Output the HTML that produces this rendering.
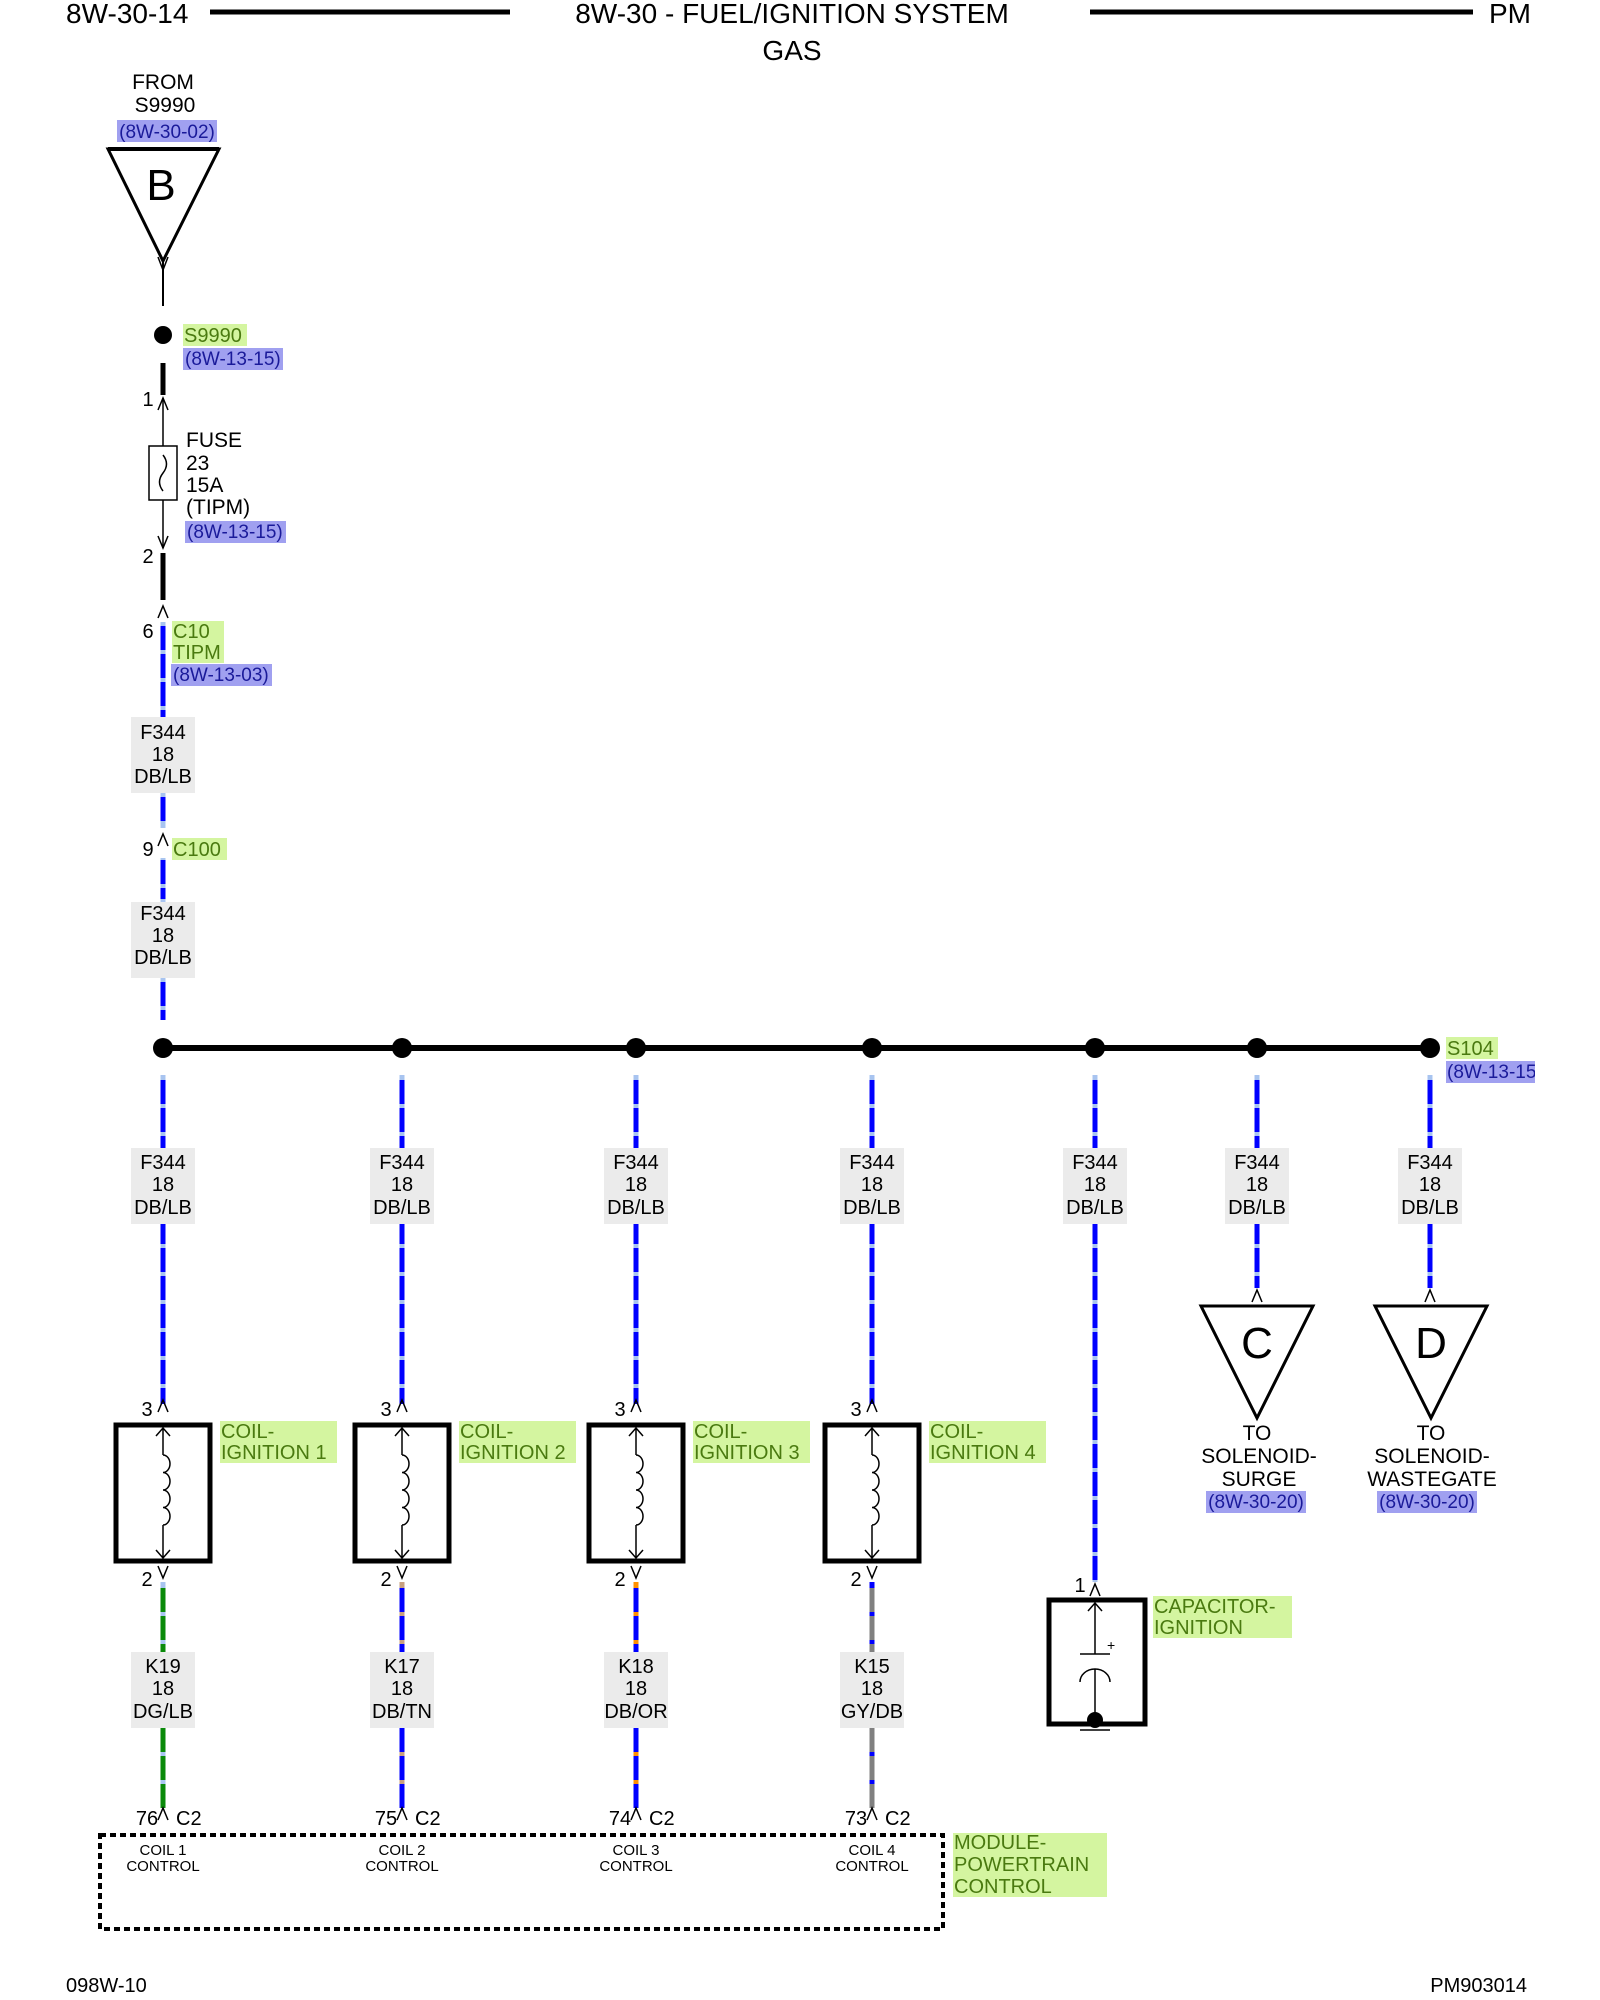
<!DOCTYPE html>
<html><head><meta charset="utf-8"><style>
html,body{margin:0;padding:0;background:#fff;}
svg{display:block;}
text{font-family:"Liberation Sans",Arial,sans-serif;fill:#000;}
.g{fill:#4a7a10;}
.b{fill:#1a1a9a;}
</style></head><body>
<svg width="1600" height="2000" viewBox="0 0 1600 2000" xmlns="http://www.w3.org/2000/svg">
<defs>
<clipPath id="clip"><rect x="0" y="0" width="1535" height="2000"/></clipPath>
</defs>
<g clip-path="url(#clip)">
<!-- header -->
<text x="66" y="23" font-size="28">8W-30-14</text>
<line x1="210" y1="12" x2="510" y2="12" stroke="#000" stroke-width="5"/>
<text x="792" y="23" font-size="28" text-anchor="middle">8W-30 - FUEL/IGNITION SYSTEM</text>
<line x1="1090" y1="12" x2="1473" y2="12" stroke="#000" stroke-width="5"/>
<text x="1489" y="23" font-size="28">PM</text>
<text x="792" y="60" font-size="28" text-anchor="middle">GAS</text>

<!-- FROM -->
<text x="163" y="89" font-size="21" text-anchor="middle">FROM</text>
<text x="165" y="112" font-size="21" text-anchor="middle">S9990</text>
<rect x="117" y="120" width="100" height="22" fill="#a0a0f0"/>
<text x="167" y="138" font-size="19" text-anchor="middle" class="b">(8W-30-02)</text>
<polygon points="108,149 219,149 163,261" fill="none" stroke="#000" stroke-width="3"/>
<line x1="108" y1="149" x2="219" y2="149" stroke="#000" stroke-width="4"/>
<text x="161" y="200" font-size="44" text-anchor="middle">B</text>
<polyline points="158,257 163,270 168,257" fill="none" stroke="#000" stroke-width="1.5"/>
<line x1="163" y1="261" x2="163" y2="306" stroke="#000" stroke-width="2"/>

<circle cx="163" cy="335" r="9" fill="#000"/>
<rect x="183" y="324" width="64" height="22" fill="#d4f5a0"/>
<text x="184" y="342" font-size="20" class="g">S9990</text>
<rect x="183" y="348" width="100" height="22" fill="#a0a0f0"/>
<text x="185" y="365" font-size="19" class="b">(8W-13-15)</text>

<line x1="163" y1="363" x2="163" y2="395" stroke="#000" stroke-width="5"/>
<text x="148" y="406" font-size="20" text-anchor="middle">1</text>
<polyline points="158,410 163,398 168,410" fill="none" stroke="#000" stroke-width="1.5"/>
<line x1="163" y1="398" x2="163" y2="548" stroke="#000" stroke-width="1.5"/>
<polyline points="158,536 163,548 168,536" fill="none" stroke="#000" stroke-width="1.5"/>
<rect x="149" y="446" width="28" height="54" fill="#fff" stroke="#000" stroke-width="1.5"/>
<path d="M163,455 Q170,464 163,473 Q156,482 163,491" fill="none" stroke="#000" stroke-width="1.5"/>
<text x="186" y="447" font-size="21">FUSE</text>
<text x="186" y="470" font-size="21">23</text>
<text x="186" y="492" font-size="21">15A</text>
<text x="186" y="514" font-size="21">(TIPM)</text>
<rect x="185" y="521" width="101" height="22" fill="#a0a0f0"/>
<text x="187" y="538" font-size="19" class="b">(8W-13-15)</text>
<text x="148" y="563" font-size="20" text-anchor="middle">2</text>
<line x1="163" y1="553" x2="163" y2="600" stroke="#000" stroke-width="5"/>
<polyline points="158,618 163,606 168,618" fill="none" stroke="#000" stroke-width="1.5"/>
<text x="148" y="638" font-size="20" text-anchor="middle">6</text>
<rect x="172" y="621" width="52" height="42" fill="#d4f5a0"/>
<text x="173" y="638" font-size="20" class="g">C10</text>
<text x="173" y="659" font-size="20" class="g">TIPM</text>
<rect x="171" y="664" width="101" height="22" fill="#a0a0f0"/>
<text x="173" y="681" font-size="19" class="b">(8W-13-03)</text>

<!-- wire helper styles -->
<g stroke-width="5">
<!-- main trunk -->
<g stroke="#a8c4f0"><line x1="163" y1="622" x2="163" y2="1020"/></g>
</g>
<g stroke="#0000ff" stroke-width="5" stroke-dasharray="24 4">
<line x1="163" y1="626" x2="163" y2="722"/>
<line x1="163" y1="797" x2="163" y2="822"/>
<line x1="163" y1="860" x2="163" y2="899"/>
<line x1="163" y1="982" x2="163" y2="1020"/>
</g>
<rect x="131" y="717" width="64" height="76" fill="#ebebeb"/>
<text x="163" y="739" font-size="20" text-anchor="middle">F344</text>
<text x="163" y="761" font-size="20" text-anchor="middle">18</text>
<text x="163" y="783" font-size="20" text-anchor="middle">DB/LB</text>
<rect x="150" y="828" width="26" height="30" fill="#fff"/>
<polyline points="158,846 163,834 168,846" fill="none" stroke="#000" stroke-width="1.5"/>
<text x="148" y="856" font-size="20" text-anchor="middle">9</text>
<rect x="172" y="838" width="55" height="22" fill="#d4f5a0"/>
<text x="173" y="856" font-size="20" class="g">C100</text>
<rect x="131" y="902" width="64" height="76" fill="#ebebeb"/>
<text x="163" y="920" font-size="20" text-anchor="middle">F344</text>
<text x="163" y="942" font-size="20" text-anchor="middle">18</text>
<text x="163" y="964" font-size="20" text-anchor="middle">DB/LB</text>

<!-- bus -->
<line x1="163" y1="1048" x2="1431" y2="1048" stroke="#000" stroke-width="6"/>
<g fill="#000">
<circle cx="163" cy="1048" r="10"/><circle cx="402" cy="1048" r="10"/><circle cx="636" cy="1048" r="10"/>
<circle cx="872" cy="1048" r="10"/><circle cx="1095" cy="1048" r="10"/><circle cx="1257" cy="1048" r="10"/><circle cx="1430" cy="1048" r="10"/>
</g>
<rect x="1446" y="1037" width="52" height="22" fill="#d4f5a0"/>
<text x="1447" y="1055" font-size="20" class="g">S104</text>
<rect x="1446" y="1061" width="100" height="22" fill="#a0a0f0"/>
<text x="1447" y="1078" font-size="19" class="b">(8W-13-15)</text>

<!-- branches upper -->
<g stroke="#a8c4f0" stroke-width="5">
<line x1="163" y1="1075" x2="163" y2="1404"/>
<line x1="402" y1="1075" x2="402" y2="1404"/>
<line x1="636" y1="1075" x2="636" y2="1404"/>
<line x1="872" y1="1075" x2="872" y2="1404"/>
<line x1="1095" y1="1075" x2="1095" y2="1582"/>
<line x1="1257" y1="1075" x2="1257" y2="1288"/>
<line x1="1430" y1="1075" x2="1430" y2="1288"/>
</g>
<g stroke="#0000ff" stroke-width="5" stroke-dasharray="24 4">
<line x1="163" y1="1080" x2="163" y2="1404"/>
<line x1="402" y1="1080" x2="402" y2="1404"/>
<line x1="636" y1="1080" x2="636" y2="1404"/>
<line x1="872" y1="1080" x2="872" y2="1404"/>
<line x1="1095" y1="1080" x2="1095" y2="1582"/>
<line x1="1257" y1="1080" x2="1257" y2="1288"/>
<line x1="1430" y1="1080" x2="1430" y2="1288"/>
</g>
<g font-size="20" text-anchor="middle">
<rect x="131" y="1148" width="64" height="76" fill="#ebebeb"/><text x="163" y="1169">F344</text><text x="163" y="1191">18</text><text x="163" y="1214">DB/LB</text>
<rect x="370" y="1148" width="64" height="76" fill="#ebebeb"/><text x="402" y="1169">F344</text><text x="402" y="1191">18</text><text x="402" y="1214">DB/LB</text>
<rect x="604" y="1148" width="64" height="76" fill="#ebebeb"/><text x="636" y="1169">F344</text><text x="636" y="1191">18</text><text x="636" y="1214">DB/LB</text>
<rect x="840" y="1148" width="64" height="76" fill="#ebebeb"/><text x="872" y="1169">F344</text><text x="872" y="1191">18</text><text x="872" y="1214">DB/LB</text>
<rect x="1063" y="1148" width="64" height="76" fill="#ebebeb"/><text x="1095" y="1169">F344</text><text x="1095" y="1191">18</text><text x="1095" y="1214">DB/LB</text>
<rect x="1225" y="1148" width="64" height="76" fill="#ebebeb"/><text x="1257" y="1169">F344</text><text x="1257" y="1191">18</text><text x="1257" y="1214">DB/LB</text>
<rect x="1398" y="1148" width="64" height="76" fill="#ebebeb"/><text x="1430" y="1169">F344</text><text x="1430" y="1191">18</text><text x="1430" y="1214">DB/LB</text>
</g>

<!-- triangles C D -->
<polyline points="1252,1302 1257,1290 1262,1302" fill="none" stroke="#000" stroke-width="1.5"/>
<polygon points="1201,1306 1313,1306 1257,1418" fill="none" stroke="#000" stroke-width="3"/>
<text x="1257" y="1358" font-size="44" text-anchor="middle">C</text>
<polyline points="1425,1302 1430,1290 1435,1302" fill="none" stroke="#000" stroke-width="1.5"/>
<polygon points="1375,1306 1487,1306 1431,1418" fill="none" stroke="#000" stroke-width="3"/>
<text x="1431" y="1358" font-size="44" text-anchor="middle">D</text>
<g font-size="21" text-anchor="middle">
<text x="1257" y="1440">TO</text><text x="1259" y="1463">SOLENOID-</text><text x="1259" y="1486">SURGE</text>
<text x="1431" y="1440">TO</text><text x="1432" y="1463">SOLENOID-</text><text x="1432" y="1486">WASTEGATE</text>
</g>
<rect x="1206" y="1491" width="100" height="22" fill="#a0a0f0"/>
<text x="1256" y="1508" font-size="19" text-anchor="middle" class="b">(8W-30-20)</text>
<rect x="1377" y="1491" width="100" height="22" fill="#a0a0f0"/>
<text x="1427" y="1508" font-size="19" text-anchor="middle" class="b">(8W-30-20)</text>

<!-- coils -->
<g id="coils">
<g font-size="20" text-anchor="middle">
<text x="147" y="1416">3</text><text x="386" y="1416">3</text><text x="620" y="1416">3</text><text x="856" y="1416">3</text>
<text x="147" y="1586">2</text><text x="386" y="1586">2</text><text x="620" y="1586">2</text><text x="856" y="1586">2</text>
<text x="147" y="1825">76</text><text x="386" y="1825">75</text><text x="620" y="1825">74</text><text x="856" y="1825">73</text>
</g>
<g font-size="20">
<text x="176" y="1825">C2</text><text x="415" y="1825">C2</text><text x="649" y="1825">C2</text><text x="885" y="1825">C2</text>
</g>
</g>

<!-- lower wires -->
<g stroke-width="5">
<line x1="163" y1="1582" x2="163" y2="1808" stroke="#a8c4f0"/>
<line x1="163" y1="1588" x2="163" y2="1808" stroke="#0a8a0a" stroke-dasharray="24 4"/>
<line x1="402" y1="1582" x2="402" y2="1808" stroke="#c8a080"/>
<line x1="402" y1="1588" x2="402" y2="1808" stroke="#0000ff" stroke-dasharray="24 4"/>
<line x1="636" y1="1582" x2="636" y2="1808" stroke="#ff9000"/>
<line x1="636" y1="1588" x2="636" y2="1808" stroke="#0000ff" stroke-dasharray="24 4"/>
<line x1="872" y1="1582" x2="872" y2="1808" stroke="#0000ff"/>
<line x1="872" y1="1588" x2="872" y2="1808" stroke="#808080" stroke-dasharray="24 4"/>
</g>
<g font-size="20" text-anchor="middle">
<rect x="131" y="1652" width="64" height="76" fill="#ebebeb"/><text x="163" y="1673">K19</text><text x="163" y="1695">18</text><text x="163" y="1718">DG/LB</text>
<rect x="370" y="1652" width="64" height="76" fill="#ebebeb"/><text x="402" y="1673">K17</text><text x="402" y="1695">18</text><text x="402" y="1718">DB/TN</text>
<rect x="604" y="1652" width="64" height="76" fill="#ebebeb"/><text x="636" y="1673">K18</text><text x="636" y="1695">18</text><text x="636" y="1718">DB/OR</text>
<rect x="840" y="1652" width="64" height="76" fill="#ebebeb"/><text x="872" y="1673">K15</text><text x="872" y="1695">18</text><text x="872" y="1718">GY/DB</text>
</g>

<!-- coil boxes -->
<g fill="none" stroke="#000">
<g transform="translate(0,0)">
<rect x="116" y="1425" width="94" height="136" fill="#fff" stroke-width="5"/>
</g>
<rect x="355" y="1425" width="94" height="136" fill="#fff" stroke-width="5"/>
<rect x="589" y="1425" width="94" height="136" fill="#fff" stroke-width="5"/>
<rect x="825" y="1425" width="94" height="136" fill="#fff" stroke-width="5"/>
</g>
<g fill="none" stroke="#000" stroke-width="1.5">
<path d="M163,1428 V1455 M163,1525 V1558 M163,1455 a7,8.75 0 0 1 0,17.5 a7,8.75 0 0 1 0,17.5 a7,8.75 0 0 1 0,17.5 a7,8.75 0 0 1 0,17.5 M156,1436 L163,1428 L170,1436 M156,1550 L163,1558 L170,1550 M158,1412 L163,1400 L168,1412 M158,1566 L163,1578 L168,1566"/>
<path transform="translate(239,0)" d="M163,1428 V1455 M163,1525 V1558 M163,1455 a7,8.75 0 0 1 0,17.5 a7,8.75 0 0 1 0,17.5 a7,8.75 0 0 1 0,17.5 a7,8.75 0 0 1 0,17.5 M156,1436 L163,1428 L170,1436 M156,1550 L163,1558 L170,1550 M158,1412 L163,1400 L168,1412 M158,1566 L163,1578 L168,1566"/>
<path transform="translate(473,0)" d="M163,1428 V1455 M163,1525 V1558 M163,1455 a7,8.75 0 0 1 0,17.5 a7,8.75 0 0 1 0,17.5 a7,8.75 0 0 1 0,17.5 a7,8.75 0 0 1 0,17.5 M156,1436 L163,1428 L170,1436 M156,1550 L163,1558 L170,1550 M158,1412 L163,1400 L168,1412 M158,1566 L163,1578 L168,1566"/>
<path transform="translate(709,0)" d="M163,1428 V1455 M163,1525 V1558 M163,1455 a7,8.75 0 0 1 0,17.5 a7,8.75 0 0 1 0,17.5 a7,8.75 0 0 1 0,17.5 a7,8.75 0 0 1 0,17.5 M156,1436 L163,1428 L170,1436 M156,1550 L163,1558 L170,1550 M158,1412 L163,1400 L168,1412 M158,1566 L163,1578 L168,1566"/>
<path d="M158,1820 L163,1808 L168,1820 M397,1820 L402,1808 L407,1820 M631,1820 L636,1808 L641,1820 M867,1820 L872,1808 L877,1820"/>
</g>
<g font-size="20" class="g">
<rect x="220" y="1421" width="117" height="42" fill="#d4f5a0"/><text x="221" y="1438" class="g">COIL-</text><text x="221" y="1459" class="g">IGNITION 1</text>
<rect x="459" y="1421" width="117" height="42" fill="#d4f5a0"/><text x="460" y="1438" class="g">COIL-</text><text x="460" y="1459" class="g">IGNITION 2</text>
<rect x="693" y="1421" width="117" height="42" fill="#d4f5a0"/><text x="694" y="1438" class="g">COIL-</text><text x="694" y="1459" class="g">IGNITION 3</text>
<rect x="929" y="1421" width="117" height="42" fill="#d4f5a0"/><text x="930" y="1438" class="g">COIL-</text><text x="930" y="1459" class="g">IGNITION 4</text>
</g>

<!-- capacitor -->
<text x="1080" y="1592" font-size="20" text-anchor="middle">1</text>
<polyline points="1090,1596 1095,1584 1100,1596" fill="none" stroke="#000" stroke-width="1.5"/>
<rect x="1049" y="1600" width="96" height="124" fill="#fff" stroke="#000" stroke-width="5"/>
<g fill="none" stroke="#000" stroke-width="1.5">
<path d="M1095,1603 V1654 M1088,1611 L1095,1603 L1102,1611 M1080,1654 H1110 M1080,1682 A15,13 0 0 1 1110,1682 M1095,1669 V1720 M1080,1730 H1110"/>
</g>
<text x="1107" y="1650" font-size="14">+</text>
<circle cx="1095" cy="1720" r="8" fill="#000"/>
<rect x="1153" y="1596" width="139" height="42" fill="#d4f5a0"/>
<text x="1154" y="1613" font-size="20" class="g">CAPACITOR-</text>
<text x="1154" y="1634" font-size="20" class="g">IGNITION</text>

<!-- module -->
<rect x="100" y="1835" width="843" height="94" fill="none" stroke="#000" stroke-width="4" stroke-dasharray="6 4"/>
<g font-size="15" text-anchor="middle">
<text x="163" y="1855">COIL 1</text><text x="163" y="1871">CONTROL</text>
<text x="402" y="1855">COIL 2</text><text x="402" y="1871">CONTROL</text>
<text x="636" y="1855">COIL 3</text><text x="636" y="1871">CONTROL</text>
<text x="872" y="1855">COIL 4</text><text x="872" y="1871">CONTROL</text>
</g>
<rect x="953" y="1833" width="154" height="64" fill="#d4f5a0"/>
<text x="954" y="1849" font-size="20" class="g">MODULE-</text>
<text x="954" y="1871" font-size="20" class="g">POWERTRAIN</text>
<text x="954" y="1893" font-size="20" class="g">CONTROL</text>

<!-- footer -->
<text x="66" y="1992" font-size="20">098W-10</text>
<text x="1527" y="1992" font-size="20" text-anchor="end">PM903014</text>
</g>
</svg>
</body></html>
